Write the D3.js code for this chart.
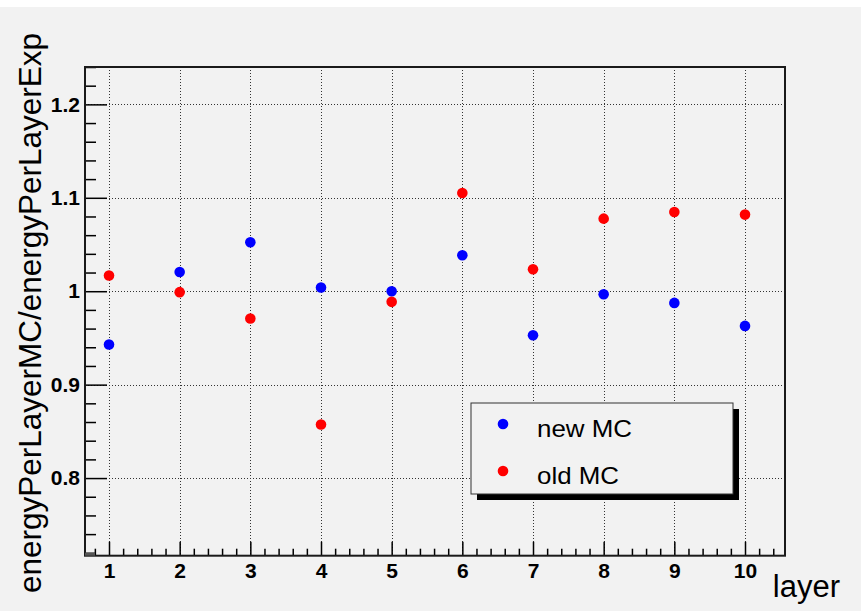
<!DOCTYPE html>
<html>
<head>
<meta charset="utf-8">
<script src="https://cdn.jsdelivr.net/npm/d3@7/dist/d3.min.js"></script>
<style>
  html, body { margin: 0; padding: 0; background: #ffffff; }
  svg { display: block; }
  text { font-family: "Liberation Sans", Arial, Helvetica, sans-serif; fill: #000; }
</style>
</head>
<body>
<svg id="chart" width="863" height="611"></svg>
<script>
// Layer number and MC/data energy ratio per layer
const layers = [1, 2, 3, 4, 5, 6, 7, 8, 9, 10];
const newMC = [0.943, 1.0206, 1.0524, 1.004, 1.000, 1.0385, 0.9529, 0.9968, 0.9875, 0.9629];
const oldMC = [1.0168, 0.999, 0.9708, 0.8574, 0.9886, 1.1051, 1.0235, 1.0777, 1.0848, 1.082];

const seriesNames = ["new MC", "old MC"];
const seriesColors = ["#0000ff", "#ff0000"];

const xTickValues = [1, 2, 3, 4, 5, 6, 7, 8, 9, 10];
const xTickLabels = ["1", "2", "3", "4", "5", "6", "7", "8", "9", "10"];
const yTickValues = [0.8, 0.9, 1.0, 1.1, 1.2];
const yTickLabels = ["0.8", "0.9", "1", "1.1", "1.2"];

const xTitle = "layer";
const yTitle = "energyPerLayerMC/energyPerLayerExp";

const svg = d3.select("#chart");
const W = 863, H = 611;

// canvas background
svg.append("rect").attr("x", 0).attr("y", 7).attr("width", W - 2).attr("height", H - 7)
  .attr("fill", "#f2f2f2");

const frame = { left: 85, right: 785, top: 67, bottom: 555.7 };

const x = d3.scaleLinear().domain([0.6604, 10.566]).range([frame.left, frame.right]);
const y = d3.scaleLinear().domain([0.7169, 1.24]).range([frame.bottom, frame.top]);

// dotted grid at the major ticks
const grid = svg.append("g").attr("stroke", "#333").attr("stroke-width", 1)
  .attr("stroke-dasharray", "1,2");
grid.selectAll("line.gx").data(xTickValues).join("line").attr("class", "gx")
  .attr("x1", d => Math.round(x(d)) + 0.5).attr("x2", d => Math.round(x(d)) + 0.5)
  .attr("y1", frame.top).attr("y2", frame.bottom);
grid.selectAll("line.gy").data(yTickValues).join("line").attr("class", "gy")
  .attr("y1", d => Math.round(y(d)) + 0.5).attr("y2", d => Math.round(y(d)) + 0.5)
  .attr("x1", frame.left).attr("x2", frame.right);

// minor ticks
const xMinor = d3.range(0.8, 10.5, 0.2).map(v => +v.toFixed(1)).filter(v => Math.abs(v - Math.round(v)) > 1e-6);
const yMinor = d3.range(0.72, 1.241, 0.02).map(v => +v.toFixed(2)).filter(v => Math.abs(v * 10 - Math.round(v * 10)) > 1e-6);

svg.append("g").attr("transform", `translate(0,${frame.bottom})`)
  .call(d3.axisBottom(x).tickValues(xMinor).tickSize(-7).tickFormat(""))
  .call(g => g.select(".domain").remove())
  .call(g => g.selectAll("line").attr("stroke", "#000").attr("stroke-width", 1.5));

svg.append("g").attr("transform", `translate(${frame.left},0)`)
  .call(d3.axisLeft(y).tickValues(yMinor).tickSize(-11).tickFormat(""))
  .call(g => g.select(".domain").remove())
  .call(g => g.selectAll("line").attr("stroke", "#000").attr("stroke-width", 1.5));

// major ticks and labels
svg.append("g").attr("transform", `translate(0,${frame.bottom})`)
  .call(d3.axisBottom(x).tickValues(xTickValues).tickSize(-14).tickPadding(7)
    .tickFormat((d, i) => xTickLabels[i]))
  .call(g => g.select(".domain").remove())
  .call(g => g.selectAll("line").attr("stroke", "#000").attr("stroke-width", 1.5))
  .call(g => g.selectAll("text").attr("font-size", 21).attr("font-weight", "bold")
    .attr("font-family", "Liberation Sans, Arial, sans-serif").attr("fill", "#000"));

svg.append("g").attr("transform", `translate(${frame.left},0)`)
  .call(d3.axisLeft(y).tickValues(yTickValues).tickSize(-22).tickPadding(5)
    .tickFormat((d, i) => yTickLabels[i]))
  .call(g => g.select(".domain").remove())
  .call(g => g.selectAll("line").attr("stroke", "#000").attr("stroke-width", 1.5))
  .call(g => g.selectAll("text").attr("font-size", 21).attr("font-weight", "bold")
    .attr("font-family", "Liberation Sans, Arial, sans-serif").attr("fill", "#000"));

// frame
svg.append("rect").attr("x", frame.left).attr("y", frame.top)
  .attr("width", frame.right - frame.left).attr("height", frame.bottom - frame.top)
  .attr("fill", "none").attr("stroke", "#1a1a1a").attr("stroke-width", 2);
svg.append("rect").attr("x", frame.left).attr("y", frame.bottom - 3)
  .attr("width", 10).attr("height", 3).attr("fill", "#555");

// markers
const series = [newMC, oldMC];
series.forEach((vals, s) => {
  svg.append("g").selectAll("circle").data(vals).join("circle")
    .attr("cx", (d, i) => x(layers[i]))
    .attr("cy", d => y(d))
    .attr("r", 5.3)
    .attr("fill", seriesColors[s]);
});

// legend with drop shadow
const leg = { x: 471, y: 403, w: 262, h: 91 };
svg.append("rect").attr("x", leg.x + 6).attr("y", leg.y + 6).attr("width", leg.w).attr("height", leg.h)
  .attr("fill", "#000");
svg.append("rect").attr("x", leg.x).attr("y", leg.y).attr("width", leg.w).attr("height", leg.h)
  .attr("fill", "#f2f2f2").attr("stroke", "#333").attr("stroke-width", 1);
const legRows = [424, 471];
const legWidths = [95, 82];
seriesNames.forEach((name, s) => {
  svg.append("circle").attr("cx", 503).attr("cy", legRows[s]).attr("r", 5.3).attr("fill", seriesColors[s]);
  svg.append("text").attr("x", 537).attr("y", legRows[s] + 13)
    .attr("font-size", 24).attr("textLength", legWidths[s]).attr("lengthAdjust", "spacingAndGlyphs")
    .text(name);
});

// axis titles
svg.append("text").attr("x", 840).attr("y", 597).attr("text-anchor", "end")
  .attr("font-size", 31).text(xTitle);
svg.append("text").attr("transform", "translate(41,593) rotate(-90)")
  .attr("font-size", 32).attr("textLength", 560).attr("lengthAdjust", "spacingAndGlyphs")
  .text(yTitle);
</script>
</body>
</html>
